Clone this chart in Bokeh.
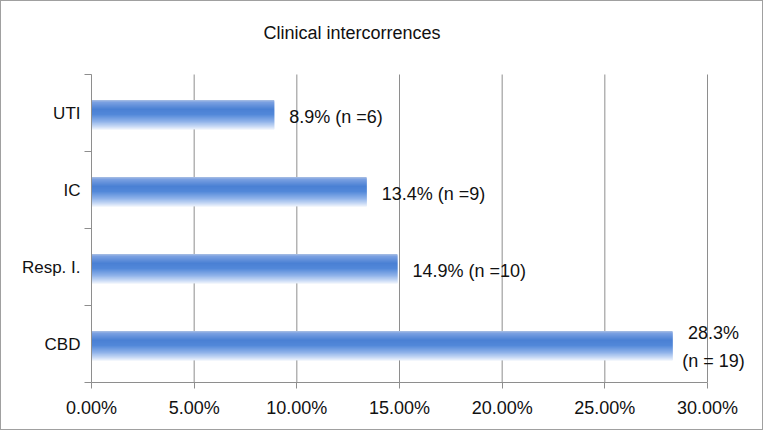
from bokeh.plotting import figure
from bokeh.models import FixedTicker, ColumnDataSource, Label
from bokeh.core.properties import value
from bokeh.embed import file_html
from bokeh.resources import INLINE

# ---- data ----
categories = ["CBD", "Resp. I.", "IC", "UTI"]          # bottom to top
percent = [28.3, 14.9, 13.4, 8.9]
counts = [19, 10, 9, 6]
data_labels = ["28.3%\n(n = 19)", "14.9% (n =10)", "13.4% (n =9)", "8.9% (n =6)"]
x_ticks = [0, 5, 10, 15, 20, 25, 30]
x_tick_labels = ["0.00%", "5.00%", "10.00%", "15.00%", "20.00%", "25.00%", "30.00%"]
title_text = "Clinical intercorrences"

FONT = "Liberation Sans"
GRID = "#8e8e8e"
TXT = "#111111"

# layout (pixels): axis area 616x308, frame extended right and up so texts are not clipped
axis_w, axis_h = 616, 308
frame_w, frame_h = 662, 381
x_max = x_ticks[-1] * frame_w / axis_w
n_cat = len(categories)
y_max = n_cat * frame_h / axis_h

p = figure(width=761, height=428, frame_width=frame_w, frame_height=frame_h,
           min_border_left=90, min_border_right=9, min_border_top=0, min_border_bottom=47,
           x_range=(0, x_max), y_range=(0, y_max),
           output_backend="svg", toolbar_location=None, tools="")
p.outline_line_color = None
p.background_fill_color = "white"
p.border_fill_color = "white"
p.styles = {"border": "1px solid #a0a0a0"}
p.title.visible = False

# title as annotation inside the (extended) frame
p.add_layout(Label(x=x_ticks[-1] * 172 / axis_w, y=n_cat * (axis_h + 42) / axis_h,
                   text=title_text, text_font=FONT, text_font_size="18px",
                   text_color=TXT, text_align="left", text_baseline="middle"))

# vertical grid lines limited to the category area
p.xgrid.grid_line_color = None
p.ygrid.grid_line_color = None
p.segment(x0=x_ticks, x1=x_ticks, y0=[0] * len(x_ticks), y1=[n_cat] * len(x_ticks),
          line_color=GRID, line_width=1)

# gradient bars made of thin overlapping strips
stops = [(0.00, (170, 192, 228)), (0.08, (122, 160, 225)), (0.32, (74, 128, 212)),
         (0.50, (82, 136, 217)), (0.75, (145, 180, 234)), (1.00, (236, 242, 252))]

def col(t):
    for (t0, c0), (t1, c1) in zip(stops[:-1], stops[1:]):
        if t0 <= t <= t1:
            f = (t - t0) / (t1 - t0)
            return "#%02x%02x%02x" % tuple(int(round(a + (b - a) * f)) for a, b in zip(c0, c1))
    return "#%02x%02x%02x" % stops[-1][1]

bar_h = 0.38
n = 29
step = bar_h / n
ys, rights, colors = [], [], []
for i, v in enumerate(percent):
    center = i + 0.5 - 0.02
    top = center + bar_h / 2
    for k in range(n):
        t = (k + 0.5) / n
        ys.append(top - k * step - step)
        rights.append(v)
        colors.append(col(t))
heights = [2 * step] * (len(ys))
for i in range(len(percent)):
    j = i * n + n - 1
    heights[j] = step
    ys[j] = ys[j] + step / 2
p.hbar(y=ys, left=0, right=rights, height=heights, color=colors, line_color=None)

# x axis
xa = p.xaxis[0]
xa.ticker = FixedTicker(ticks=x_ticks)
xa.bounds = (x_ticks[0], x_ticks[-1])
xa.major_label_overrides = {t: l for t, l in zip(x_ticks, x_tick_labels)}
xa.axis_line_color = GRID
xa.major_tick_line_color = GRID
xa.major_tick_out = 6
xa.major_tick_in = 0
xa.minor_tick_line_color = None
xa.major_label_text_font = FONT
xa.major_label_text_font_size = "18px"
xa.major_label_text_color = TXT
xa.major_label_standoff = 9

# y axis
ya = p.yaxis[0]
ya.ticker = FixedTicker(ticks=[i + 0.5 for i in range(n_cat)],
                        minor_ticks=list(range(n_cat + 1)))
ya.bounds = (0, n_cat)
ya.major_label_overrides = {i + 0.5: c for i, c in enumerate(categories)}
ya.axis_line_color = GRID
ya.major_tick_line_color = None
ya.major_tick_out = 0
ya.major_tick_in = 0
ya.minor_tick_line_color = GRID
ya.minor_tick_out = 7
ya.minor_tick_in = 0
ya.major_label_text_font = FONT
ya.major_label_text_font_size = "17px"
ya.major_label_text_color = TXT
ya.major_label_standoff = 4

# data labels
single = ColumnDataSource(dict(x=percent[1:], y=[i + 0.5 for i in range(1, len(percent))],
                               t=data_labels[1:]))
p.text(x="x", y="y", text="t", source=single, x_offset=15, y_offset=4,
       text_font=value(FONT), text_font_size="18px", text_color=TXT,
       text_align="left", text_baseline="middle")
p.text(x=[percent[0]], y=[0.5], text=[data_labels[0]], x_offset=41, y_offset=3,
       text_font=value(FONT), text_font_size="18px", text_color=TXT,
       text_align="center", text_baseline="middle", text_line_height=1.4)

open("out.html", "w").write(file_html(p, INLINE))
